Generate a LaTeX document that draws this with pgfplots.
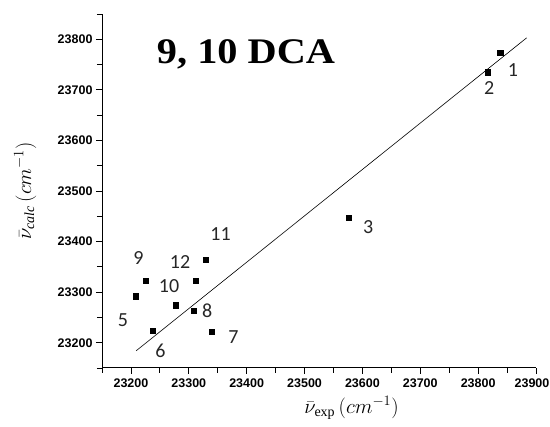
\documentclass[border=0pt]{standalone}
\usepackage{pgfplots}
\pgfplotsset{compat=1.18}
\usepackage{fontspec}
\setmainfont{Liberation Serif}
\newfontfamily\tickfont{Liberation Sans}
\newfontfamily\numfont{Carlito}

\begin{document}
\begin{tikzpicture}[x=1pt,y=1pt]
\useasboundingbox (0,0) rectangle (550,427);
\begin{axis}[
  at={(102pt,59pt)}, anchor=south west,
  scale only axis, width=434pt, height=354pt,
  xmin=23150, xmax=23900, ymin=23150, ymax=23850,
  axis lines*=left,
  axis line style={line width=1pt},
  xtick={23200,23300,...,23900}, ytick={23200,23300,...,23800},
  % the last x label is nudged left to stay inside the page
  xticklabels={23200,23300,23400,23500,23600,23700,23800,\hspace*{-8pt}23900},
  minor xtick={23150,23250,...,23850},
  minor ytick={23150,23250,...,23850},
  tick align=outside,
  major tick length=6pt, minor tick length=5pt,
  tick style={line width=0.8pt, black},
  scaled ticks=false,
  /pgf/number format/.cd, set thousands separator={}, fixed, assume math mode=true,
  /pgfplots/.cd,
  tick label style={font=\tickfont\bfseries\fontsize{12.5}{13}\selectfont},
  xticklabel style={yshift=-1pt},
  xlabel={$\bar{\nu}_{\mathrm{exp}}\,(cm^{-1})$},
  ylabel={$\bar{\nu}_{\mathit{calc}}\,(cm^{-1})$},
  label style={font=\fontsize{20}{22}\selectfont},
  xlabel style={at={(axis description cs:0.575,-0.113)}, anchor=center},
  ylabel style={at={(axis description cs:-0.177,0.5)}, anchor=center},
  clip=false,
]
% regression line
\addplot[black, line width=0.6pt] coordinates {(23209,23184) (23884,23803)};
% measured vs calculated wavenumbers
\addplot[only marks, mark=square*, mark size=2.6pt, black] coordinates {
  (23838,23773) (23817,23735) (23577,23447) (23208,23292)
  (23237,23224) (23339,23222) (23308,23263) (23226,23322)
  (23278,23274) (23329,23364) (23312,23322)
};
\begin{scope}[every node/.style={font=\numfont\fontsize{20}{22}\selectfont, text=black!85, inner sep=0pt, anchor=center}]
\node at (axis cs:23860,23739) {1};
\node at (axis cs:23819,23703) {2};
\node at (axis cs:23610,23429) {3};
\node at (axis cs:23186,23245) {5};
\node at (axis cs:23251,23184) {6};
\node at (axis cs:23377,23211) {7};
\node at (axis cs:23332,23263) {8};
\node at (axis cs:23213,23367) {9};
\node at (axis cs:23266,23311) {10};
\node at (axis cs:23355,23414) {11};
\node at (axis cs:23285,23359) {12};
\end{scope}
\end{axis}
\node[font=\bfseries\fontsize{36}{40}\selectfont, inner sep=0pt, xscale=1.12] at (246,373) {9, 10 DCA};
\end{tikzpicture}
\end{document}
